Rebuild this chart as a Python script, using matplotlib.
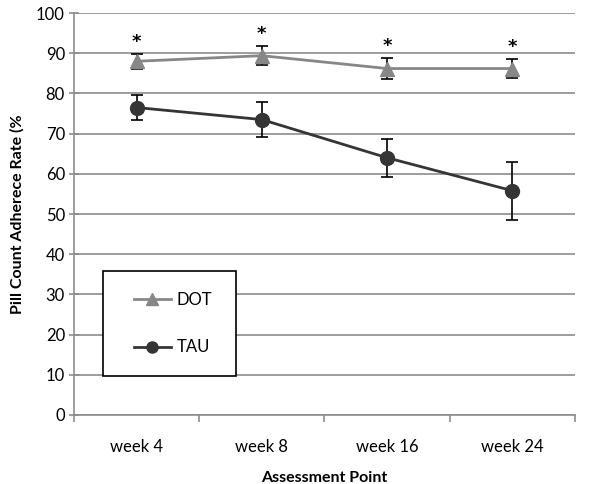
import numpy as np
import matplotlib.pyplot as plt
from matplotlib.lines import Line2D
from matplotlib.patches import Rectangle

plt.rcParams['font.family'] = ['Lato', 'DejaVu Sans']

weeks = ['week 4', 'week 8', 'week 16', 'week 24']
dot_mean = [88.0, 89.4, 86.2, 86.2]
dot_err = [1.9, 2.4, 2.6, 2.4]
tau_mean = [76.5, 73.5, 64.0, 55.8]
tau_err = [3.1, 4.4, 4.7, 7.2]
signif = ['*', '*', '*', '*']

dot_col = '#878787'
tau_col = '#353535'
grid_col = '#8c8c8c'

fig = plt.figure(figsize=(6, 4.84), dpi=100)
ax = fig.add_axes([0.1233, 0.1426, 0.835, 0.8304])

x = np.arange(len(weeks))

ax.errorbar(x, dot_mean, yerr=dot_err, color=dot_col, marker='^', markersize=10,
            linewidth=2, ecolor='black', elinewidth=1.2, capsize=4, capthick=1.2,
            zorder=3)
ax.errorbar(x, tau_mean, yerr=tau_err, color=tau_col, marker='o', markersize=10,
            linewidth=2, ecolor='black', elinewidth=1.2, capsize=4, capthick=1.2,
            zorder=3)

# significance stars above the DOT error bars
for i in range(len(weeks)):
    ax.text(x[i], dot_mean[i] + dot_err[i] + 3.0, signif[i], ha='center', va='center',
            fontsize=13, fontweight='bold', color='black', family='DejaVu Sans')

ax.set_ylim(0, 100)
ax.set_xlim(-0.5, len(weeks) - 0.5)
ax.set_yticks(np.arange(0, 101, 10))
ax.yaxis.grid(True, color=grid_col, linewidth=1.2)
ax.set_axisbelow(True)

ax.set_xticks(x)
ax.set_xticklabels(weeks)
ax.set_xticks(np.arange(-0.5, len(weeks), 1), minor=True)
ax.tick_params(axis='x', which='major', length=0, pad=17, labelsize=12, colors='black')
ax.tick_params(axis='x', which='minor', length=5, width=1.2, color=grid_col)
ax.tick_params(axis='y', direction='inout', length=7, width=1.2, color=grid_col,
               labelsize=12, pad=3)

for s in ['top', 'right']:
    ax.spines[s].set_visible(False)
ax.spines['left'].set_color(grid_col)
ax.spines['left'].set_linewidth(1.2)
ax.spines['bottom'].set_color(grid_col)
ax.spines['bottom'].set_linewidth(1.2)

ax.set_ylabel('Pill Count Adherece Rate (%', fontsize=11.5, fontweight='bold', labelpad=8)
ax.set_xlabel('Assessment Point', fontsize=11.5, fontweight='bold', labelpad=12)

# legend box (Excel style, white box over gridlines)
ax.add_patch(Rectangle((0.058, 0.097), 0.2655, 0.261, transform=ax.transAxes,
                       facecolor='white', edgecolor='black', linewidth=1.2, zorder=4))
handles = [Line2D([], [], color=dot_col, marker='^', markersize=8, linewidth=2),
           Line2D([], [], color=tau_col, marker='o', markersize=8, linewidth=2)]
leg = ax.legend(handles, ['DOT', 'TAU'], loc='center', bbox_to_anchor=(0.198, 0.2276),
                frameon=False, labelspacing=1.9, handlelength=2.2, handletextpad=0.35,
                fontsize=12, borderaxespad=0)
leg.set_zorder(5)

fig.savefig('out.png', dpi=100)
